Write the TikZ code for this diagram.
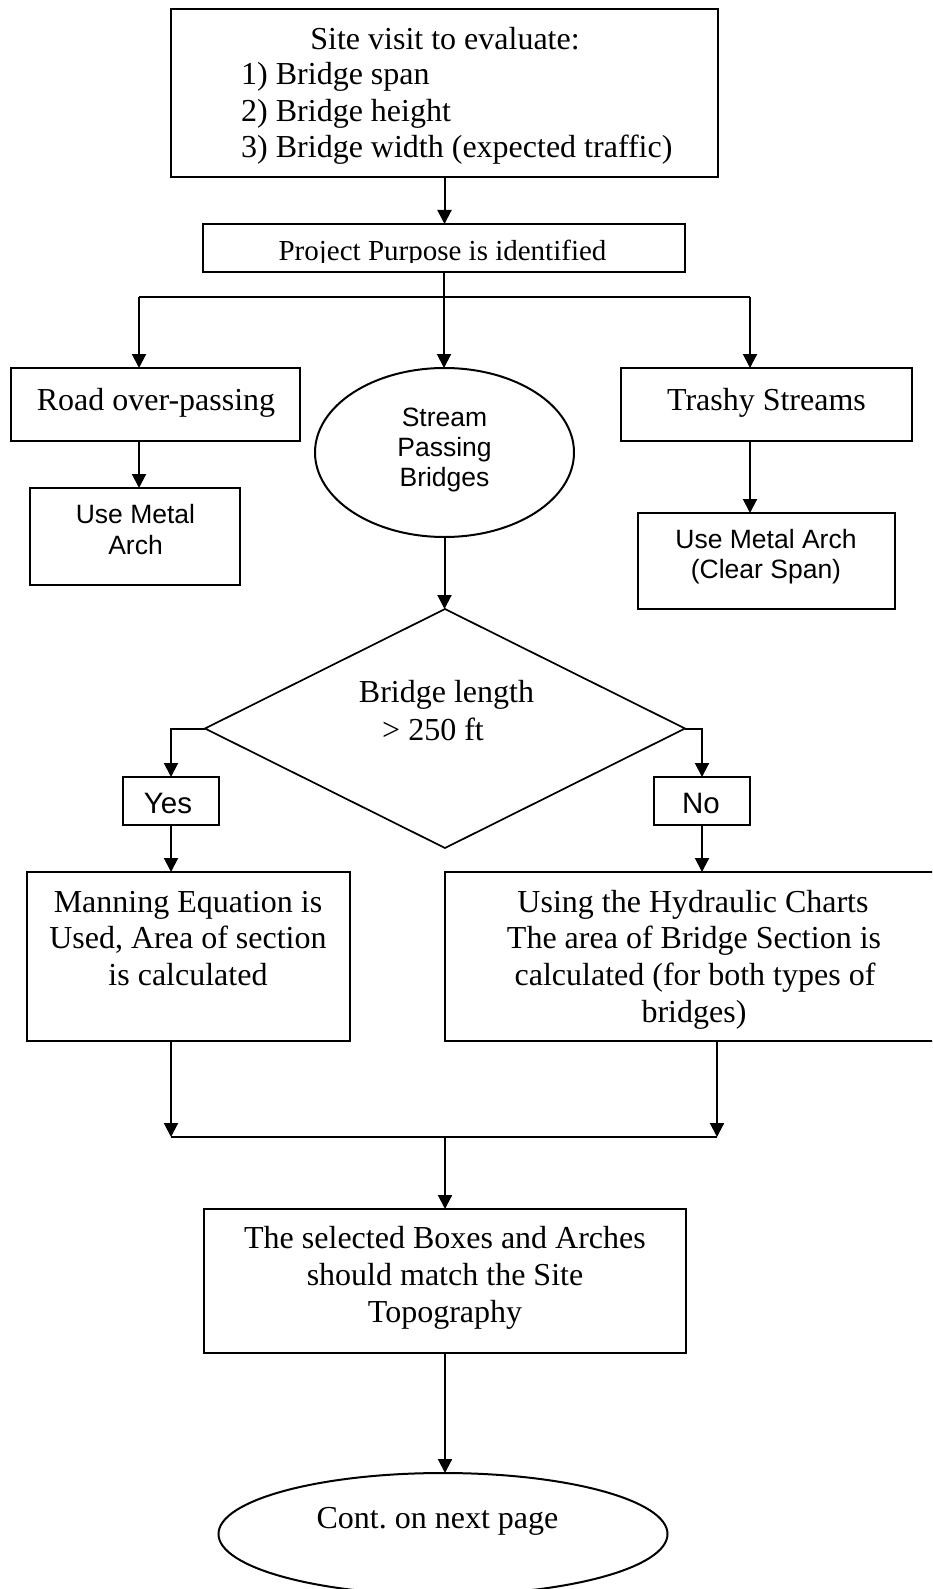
\documentclass[tikz,border=0pt]{standalone}
\usepackage{fontspec}
\setmainfont{Liberation Serif}
\newfontfamily\arialf{Liberation Sans}
\usetikzlibrary{shapes.geometric,arrows.meta}
\frenchspacing
\begin{document}
\begin{tikzpicture}[x=1pt,y=-1pt,
  box/.style={draw, line width=2.4pt, rectangle, inner sep=0pt, outer sep=0pt},
  oval/.style={draw, line width=2pt, ellipse, inner sep=0pt, outer sep=0pt},
  decision/.style={draw, line width=1.7pt, diamond, inner sep=0pt, outer sep=0pt},
  conn/.style={line width=2pt},
  arr/.style={conn, -{Triangle[width=14pt,length=14pt]}},
  serif/.style={inner sep=0pt, anchor=base, font=\fontsize{32}{36}\selectfont},
  sans/.style={inner sep=0pt, anchor=base, font=\arialf\fontsize{26.5}{30}\selectfont},
]
\useasboundingbox (0,0) rectangle (932,1589);
\clip (0,0) rectangle (932,1589);

% shapes
\node[box, minimum width=547pt, minimum height=168pt] (site) at (444.5,93) {};
\node[box, minimum width=482pt, minimum height=48pt] (purpose) at (444,248) {};
\node[box, minimum width=289pt, minimum height=73pt] (road) at (155.5,404.5) {};
\node[box, minimum width=291pt, minimum height=73pt] (trashy) at (766.5,404.5) {};
\node[oval, minimum width=259pt, minimum height=169pt] (stream) at (444.5,452.5) {};
\node[box, minimum width=210pt, minimum height=97pt] (metal) at (135,536.5) {};
\node[box, minimum width=257pt, minimum height=96pt] (clear) at (766.5,561) {};
\node[decision, minimum width=480pt, minimum height=239pt] (dia) at (445,728.5) {};
\node[box, minimum width=96pt, minimum height=48pt] (yes) at (171,801) {};
\node[box, minimum width=96pt, minimum height=48pt] (no) at (702,801) {};
\node[box, minimum width=323pt, minimum height=169pt] (manning) at (188.5,956.5) {};
\node[box, minimum width=496pt, minimum height=169pt] (hyd) at (693,956.5) {};
\node[box, minimum width=482pt, minimum height=144pt] (sel) at (445,1281) {};
\node[oval, minimum width=449pt, minimum height=122pt] (cont) at (443,1534) {};

% texts
\node[serif] (t1) at (445,50) {Site visit to evaluate:};
\node[serif, anchor=base west] (t2) at (241,85) {1) Bridge span};
\node[serif, anchor=base west] (t3) at (241,122) {2) Bridge height};
\node[serif, anchor=base west] (t4) at (241,158) {3) Bridge width (expected traffic)};
\begin{scope}
  \clip (203,224) rectangle (685,262.5);
  \node[serif, font=\fontsize{29}{33}\selectfont] (t5) at (442.5,261) {Project Purpose is identified};
\end{scope}
\node[serif] (t6) at (156,410) {Road over-passing};
\node[serif] (t7) at (766.5,410) {Trashy Streams};
\node[sans] (t8) at (444.5,426) {Stream};
\node[sans] (t9) at (444.5,456) {Passing};
\node[sans] (t10) at (444.5,486) {Bridges};
\node[sans] (t11) at (135.5,523) {Use Metal};
\node[sans] (t12) at (135.5,554) {Arch};
\node[sans] (t13) at (766,548) {Use Metal Arch};
\node[sans] (t14) at (766,578) {(Clear Span)};
\node[serif] (t15) at (446.5,702) {Bridge length};
\node[serif] (t16) at (433,740) {> 250 ft};
\node[sans, font=\arialf\fontsize{29.5}{33}\selectfont] (t17) at (168,813) {Yes};
\node[sans, font=\arialf\fontsize{29.5}{33}\selectfont] (t18) at (701,813) {No};
\node[serif] (t19) at (188,912) {Manning Equation is};
\node[serif] (t20) at (188,948) {Used, Area of section};
\node[serif] (t21) at (188,985) {is calculated};
\node[serif] (t22) at (693,912) {Using the Hydraulic Charts};
\node[serif] (t23) at (694,948) {The area of Bridge Section is};
\node[serif] (t24) at (695,985) {calculated (for both types of};
\node[serif] (t25) at (694,1022) {bridges)};
\node[serif] (t26) at (445,1248) {The selected Boxes and Arches};
\node[serif] (t27) at (445,1285) {should match the Site};
\node[serif] (t28) at (445,1322) {Topography};
\node[serif] (t29) at (437.5,1528) {Cont. on next page};

% connectors
\coordinate (split) at (444,297);
\coordinate (sL) at (139,297);
\coordinate (sR) at (750,297);
\draw[arr] (site.south) -- (site.south |- purpose.north);
\draw[conn] (purpose.south) -- (split);
\draw[conn] (sL) -- (sR);
\draw[arr] (sL) -- (sL |- road.north);
\draw[arr] (split) -- (split |- stream.north);
\draw[arr] (sR) -- (sR |- trashy.north);
\draw[arr] (sL |- road.south) -- (sL |- metal.north);
\draw[arr] (sR |- trashy.south) -- (sR |- clear.north);
\draw[arr] (stream.south) -- (stream.south |- dia.north);
\draw[arr] (dia.west) -| (yes.north);
\draw[arr] (dia.east) -| (no.north);
\draw[arr] (yes.south) -- (yes.south |- manning.north);
\draw[arr] (no.south) -- (no.south |- hyd.north);
\coordinate (jL) at (171,1137);
\coordinate (jR) at (717,1137);
\coordinate (jM) at (445,1137);
\draw[arr] (jL |- manning.south) -- (jL);
\draw[arr] (jR |- hyd.south) -- (jR);
\draw[conn] (jL) -- (jR);
\draw[arr] (jM) -- (jM |- sel.north);
\draw[arr] (sel.south) -- (sel.south |- cont.north);
\end{tikzpicture}
\end{document}
